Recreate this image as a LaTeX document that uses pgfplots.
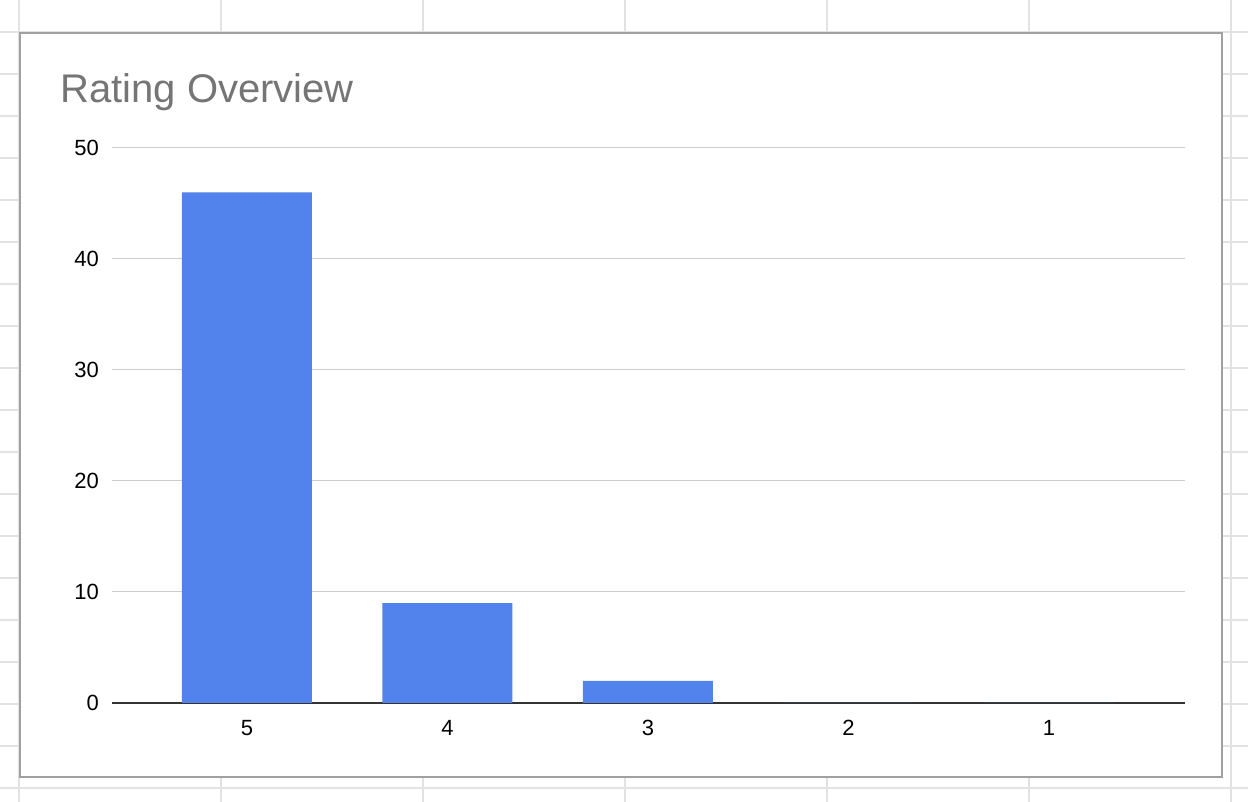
\documentclass[border=0pt]{standalone}
\usepackage{pgfplots}
\pgfplotsset{compat=1.18}
\usepackage{fontspec}
\setmainfont{Liberation Sans}

\definecolor{barblue}{HTML}{5282EB}
\definecolor{titlegray}{HTML}{757575}
\definecolor{sheetgrid}{HTML}{E2E2E2}
\definecolor{boxgray}{HTML}{A0A0A0}
\definecolor{gridgray}{HTML}{CCCCCC}

% 1 px of the screenshot = 0.5pt, y measured from the top
\newcommand{\px}[2]{({#1*0.5pt},{(802-#2)*0.5pt})}

\begin{document}
\begin{tikzpicture}
  \useasboundingbox[fill=white] \px{0}{802} rectangle \px{1248}{0};
  % spreadsheet cells behind the chart
  \foreach \x in {19,221,423,625,827,1029,1231}
    \draw[sheetgrid, line width=1pt] \px{\x}{0} -- \px{\x}{802};
  \foreach \y in {32,74,...,788}
    \draw[sheetgrid, line width=1pt] \px{0}{\y} -- \px{1248}{\y};
  % chart box
  \draw[boxgray, line width=1pt, fill=white] \px{20}{33} rectangle \px{1222}{777};
  \node[anchor=base west, text=titlegray, font=\fontsize{20}{23}\selectfont, inner sep=0pt]
    at \px{60}{103} {Rating Overview};

  \begin{axis}[
      at={(56pt,49.5pt)}, anchor=south west,
      scale only axis,
      width=536.5pt, height=277.5pt,
      xmin=-0.673, xmax=4.679,
      ymin=0, ymax=50,
      ytick={0,10,20,30,40,50},
      xtick={0,1,2,3,4},
      xticklabels={5,4,3,2,1},
      axis lines*=left,
      y axis line style={draw=none},
      x axis line style={color=black!80, line width=1pt},
      major tick length=0pt,
      ymajorgrids,
      grid style={gridgray, line width=0.5pt},
      tick label style={font=\fontsize{11}{13}\selectfont, black},
      /pgf/number format/assume math mode=true,
      yticklabel style={xshift=-3pt},
      xticklabel style={yshift=-5pt},
      ybar, bar width=65pt,
      clip=false]
    \addplot[fill=barblue, draw=none] coordinates {
      (0, 46) (1, 9) (2, 2) (3, 0) (4, 0)
    };
  \end{axis}
\end{tikzpicture}
\end{document}
